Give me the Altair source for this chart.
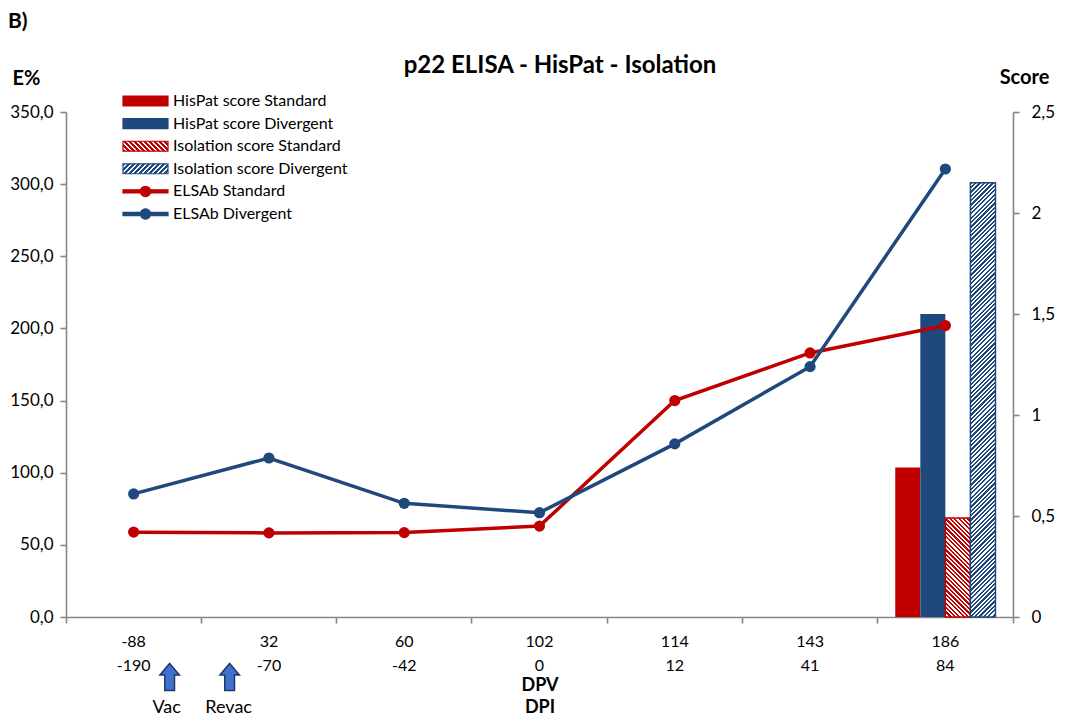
import math
import json
import altair as alt
import pandas as pd

# ---------------- data ----------------
dpv = ["-88", "32", "60", "102", "114", "143", "186"]
dpi = ["-190", "-70", "-42", "0", "12", "41", "84"]
elsab_standard = [58.8, 58.3, 58.5, 63.0, 150.0, 183.0, 202.0]
elsab_divergent = [85.3, 110.2, 78.8, 72.3, 120.0, 173.5, 310.5]
line_series = ["ELSAb Standard", "ELSAb Divergent"]

bar_series = ["HisPat score Standard", "HisPat score Divergent",
              "Isolation score Standard", "Isolation score Divergent"]
bar_scores = [0.74, 1.5, 0.49, 2.15]
bar_dpv = "186"

e_ticks = [0, 50, 100, 150, 200, 250, 300, 350]
score_ticks = [0, 0.5, 1.0, 1.5, 2.0, 2.5]
annotations = ["Vac", "Revac"]
annotation_dpv = "-88"

title_text = "p22 ELISA - HisPat - Isolation"
panel_label = "B)"

# ---------------- style ----------------
RED = "#C00000"
BLUE = "#1F497D"
AXIS_GREY = "#868686"
FONT = "Lato"
W, H = 947, 505
E_MAX, S_MAX = 350, 2.5

cats = [f"{a}|{b}" for a, b in zip(dpv, dpi)]
cat_of = dict(zip(dpv, cats))

lines_df = pd.DataFrame({
    "cat": cats * 2,
    "E": elsab_standard + elsab_divergent,
    "series": [line_series[0]] * len(cats) + [line_series[1]] * len(cats),
})
bars_df = pd.DataFrame({"cat": [cat_of[bar_dpv]] * 4, "series": bar_series, "score": bar_scores})
legend_order = bar_series + line_series
legend_df = pd.DataFrame({"series": legend_order})
ann_df = pd.DataFrame({"cat": [cat_of[annotation_dpv]] * 2, "label": annotations})


def hatch(color, w, h, period, direction):
    a = w / h
    q = (a + 1) / (a * a + 1)
    n = max(1, round((w + h) / math.sqrt(2) / period))
    stops = []
    for k in range(n):
        o0, o1, o2 = k / n, (k + 0.5) / n, (k + 1) / n
        stops += [{"offset": o0, "color": color}, {"offset": o1, "color": color},
                  {"offset": o1, "color": "#FFFFFF"}, {"offset": o2, "color": "#FFFFFF"}]
    if direction == "/":
        x1, y1, x2, y2 = 0, 0, a * q, q
    else:
        x1, y1, x2, y2 = 0, 1, a * q, 1 - q
    return {"gradient": "linear", "x1": x1, "y1": y1, "x2": x2, "y2": y2, "stops": stops}


step = W / len(cats)
bar_w = step / (4 + 1.4)
px_per_score = H / S_MAX

x_enc = alt.X(
    "cat:N",
    scale=alt.Scale(domain=cats, paddingInner=0, paddingOuter=0),
    axis=alt.Axis(
        title=["DPV", "DPI"], titleFontWeight="bold", titleFontSize=18,
        titleY=59, titleBaseline="top", titleLineHeight=22,
        labelExpr="split(datum.label, '|')", labelAngle=0, labelFontSize=16,
        labelLineHeight=24, labelPadding=10, labelBaseline="top",
        tickSize=6, bandPosition=1, tickExtra=True,
    ),
)
xoff_enc = alt.XOffset("series:N", scale=alt.Scale(domain=bar_series, paddingOuter=0.7, paddingInner=0))

score_axis = alt.Axis(
    orient="right", values=score_ticks, title="Score", titleAngle=0,
    titleX=11, titleY=-35, titleAlign="center", titleBaseline="middle",
    titleFontWeight="bold", titleFontSize=20,
    labelExpr="replace(format(datum.value, '.1~f'), '.', ',')",
    labelFontSize=17, labelPadding=12, tickSize=6,
)
y_score = alt.Y("score:Q", scale=alt.Scale(domain=[0, S_MAX], nice=False), axis=score_axis)

bar_styles = {
    bar_series[0]: dict(color=RED),
    bar_series[1]: dict(color=BLUE),
    bar_series[2]: dict(fill=hatch(RED, bar_w, bar_scores[2] * px_per_score, 3.1, "\\"),
                        stroke=RED, strokeWidth=1.5),
    bar_series[3]: dict(fill=hatch(BLUE, bar_w, bar_scores[3] * px_per_score, 3.1, "/"),
                        stroke=BLUE, strokeWidth=1.5),
}
bar_layers = [
    alt.Chart(bars_df).transform_filter(alt.datum.series == s)
    .mark_bar(**bar_styles[s])
    .encode(x=x_enc, xOffset=xoff_enc, y=y_score)
    for s in bar_series
]

e_axis = alt.Axis(
    orient="left", values=e_ticks, title="E%", titleAngle=0,
    titleX=-40, titleY=-34, titleAlign="center", titleBaseline="middle",
    titleFontWeight="bold", titleFontSize=20,
    labelExpr="replace(format(datum.value, '.1f'), '.', ',')",
    labelFontSize=17, labelPadding=7, tickSize=6,
)
y_e = alt.Y("E:Q", scale=alt.Scale(domain=[0, E_MAX], nice=False), axis=e_axis)

line_colors = {line_series[0]: RED, line_series[1]: BLUE}
line_layers = [
    alt.Chart(lines_df).transform_filter(alt.datum.series == s)
    .mark_line(color=c, strokeWidth=3.5,
               point=alt.OverlayMarkDef(filled=True, size=125, color=c, opacity=1))
    .encode(x=x_enc, y=y_e)
    for s, c in line_colors.items()
]

# legend driven by a layer whose points sit outside the clipped plot area
leg_sym_w, leg_sym_h = 45, 9.9
bar_path = "M-1,-0.22H1V0.22H-1Z"
line_path = ("M-1,-0.07H1V0.07H-1Z M0.23,0A0.23,0.23 0 1 1 -0.23,0"
             "A0.23,0.23 0 1 1 0.23,0Z")
fill_range = [RED, BLUE,
              alt.ExprRef(json.dumps(hatch(RED, leg_sym_w, leg_sym_h, 3.4, "\\"))),
              alt.ExprRef(json.dumps(hatch(BLUE, leg_sym_w, leg_sym_h, 3.4, "/"))),
              RED, BLUE]
stroke_range = [RED, BLUE, RED, BLUE, RED, BLUE]
shape_range = [bar_path, bar_path, bar_path, bar_path, line_path, line_path]
leg = alt.Legend(
    title=None, orient="none", legendX=56, legendY=-18.5, padding=0,
    symbolSize=2025, clipHeight=15, rowPadding=5.6, labelOffset=4,
    labelFont=FONT, labelFontSize=16, labelColor="#000000", labelLimit=400,
    symbolStrokeWidth=1.2, symbolOpacity=1,
    symbolFillColor="#FFFFFF", symbolStrokeColor="#FFFFFF",
)
legend_layer = alt.Chart(legend_df).mark_point(filled=True, clip=True).encode(
    x=alt.value(-200), y=alt.value(-200),
    fill=alt.Fill("series:N", scale=alt.Scale(domain=legend_order, range=fill_range), legend=leg),
    stroke=alt.Stroke("series:N", scale=alt.Scale(domain=legend_order, range=stroke_range), legend=leg),
    shape=alt.Shape("series:N", scale=alt.Scale(domain=legend_order, range=shape_range), legend=leg),
)

arrow_path = "M0,-1L0.72,-0.15L0.36,-0.15L0.36,1L-0.36,1L-0.36,-0.15L-0.72,-0.15Z"
arrow_shift = {"Vac": 36, "Revac": 96}
text_shift = {"Vac": 33, "Revac": 95}
ann_layers = []
for lab in annotations:
    base = alt.Chart(ann_df).transform_filter(alt.datum.label == lab)
    ann_layers.append(
        base.mark_point(shape=arrow_path, size=729, filled=True, fill="#3F72CF",
                        stroke="#1F3864", strokeWidth=1.5, opacity=1)
        .encode(x=x_enc, xOffset=alt.value(step / 2 + arrow_shift[lab]), y=alt.value(H + 60))
    )
    ann_layers.append(
        base.mark_text(font=FONT, fontSize=18, color="#000000", baseline="middle",
                       align="center", dx=text_shift[lab])
        .encode(x=x_enc, y=alt.value(H + 91), text="label:N")
    )

texts_df = pd.DataFrame({"t": [panel_label, title_text]})
panel = alt.Chart(texts_df).transform_filter(alt.datum.t == panel_label).mark_text(
    font=FONT, fontSize=21, fontWeight="bold", align="left", baseline="middle", color="#000000"
).encode(x=alt.value(-58), y=alt.value(-90.5), text="t:N")
title_mark = alt.Chart(texts_df).transform_filter(alt.datum.t == title_text).mark_text(
    font=FONT, fontSize=24, fontWeight="bold", align="center", baseline="middle", color="#000000"
).encode(x=alt.value(W / 2 + 20.5), y=alt.value(-46), text="t:N")

bars = alt.layer(*bar_layers)
lines = alt.layer(*line_layers, legend_layer, *ann_layers, panel, title_mark)

chart = (
    alt.layer(bars, lines)
    .resolve_scale(y="independent")
    .properties(
        width=W, height=H,
        autosize=alt.AutoSizeParams(type="none"),
        padding={"left": 58, "top": 104, "right": 44, "bottom": 99},
    )
    .configure(font=FONT)
    .configure_view(stroke=None)
    .configure_axis(grid=False, domainColor=AXIS_GREY, tickColor=AXIS_GREY,
                    domainWidth=1.6, tickWidth=1.6, labelFont=FONT, titleFont=FONT,
                    labelColor="#000000", titleColor="#000000")
)

chart.save("out.html", embed_options={"renderer": "svg", "actions": False})
